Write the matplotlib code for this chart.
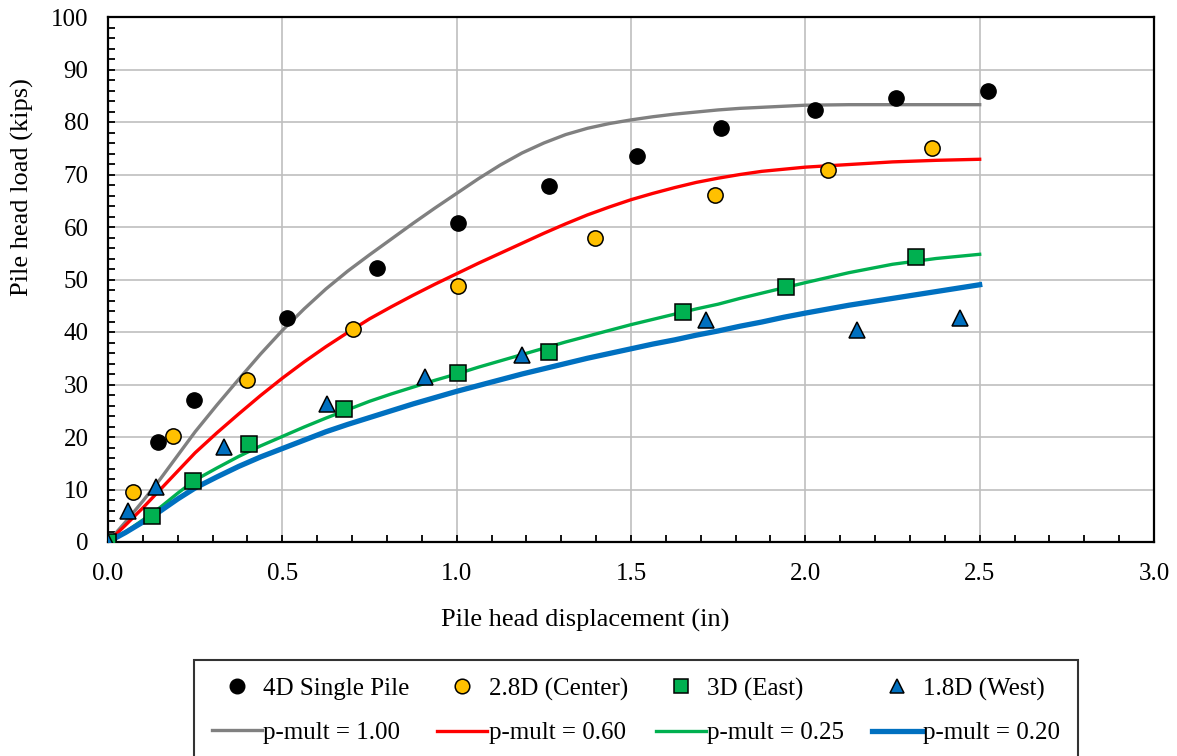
import matplotlib
matplotlib.use("Agg")
import matplotlib.pyplot as plt
from matplotlib.ticker import MultipleLocator, FormatStrFormatter

plt.rcParams['font.family'] = ['Liberation Serif', 'DejaVu Serif']

# Measured data
single_x = [0.0, 0.143, 0.247, 0.513, 0.772, 1.004, 1.266, 1.517, 1.758, 2.027, 2.261, 2.524]
single_y = [0.0, 19.0, 27.0, 42.6, 52.2, 60.8, 67.8, 73.6, 78.9, 82.3, 84.5, 85.9]

center_x = [0.0, 0.073, 0.185, 0.399, 0.702, 1.004, 1.397, 1.741, 2.065, 2.364]
center_y = [0.0, 9.6, 20.2, 30.8, 40.6, 48.8, 58.0, 66.1, 70.8, 75.0]

east_x = [0.0, 0.126, 0.243, 0.405, 0.677, 1.003, 1.266, 1.650, 1.945, 2.318]
east_y = [0.0, 4.9, 11.7, 18.6, 25.3, 32.2, 36.2, 43.9, 48.5, 54.2]

west_x = [0.0, 0.057, 0.139, 0.332, 0.628, 0.908, 1.187, 1.715, 2.147, 2.445]
west_y = [0.0, 5.9, 10.5, 18.1, 26.2, 31.4, 35.7, 42.2, 40.4, 42.6]

# Model curves (p-multipliers)
curve_x = [0.0, 0.05, 0.1, 0.15, 0.2, 0.25, 0.3125, 0.375, 0.4375, 0.5, 0.5625, 0.625,
           0.6875, 0.75, 0.8125, 0.875, 0.9375, 1.0, 1.0625, 1.125, 1.1875, 1.25,
           1.3125, 1.375, 1.4375, 1.5, 1.5625, 1.625, 1.6875, 1.75, 1.8125, 1.875,
           1.9375, 2.0, 2.125, 2.25, 2.375, 2.5]
pm100_y = [0.0, 3.8, 7.8, 12.0, 16.5, 21.0, 26.1, 31.0, 35.8, 40.3, 44.4, 48.2,
           51.6, 54.7, 57.7, 60.7, 63.6, 66.4, 69.2, 71.8, 74.1, 76.0,
           77.6, 78.8, 79.7, 80.4, 81.0, 81.5, 81.9, 82.3, 82.6, 82.8,
           83.0, 83.2, 83.3, 83.3, 83.3, 83.3]
pm060_y = [0.0, 3.2, 6.5, 10.0, 13.5, 17.0, 20.8, 24.4, 27.9, 31.2, 34.3, 37.2,
           39.9, 42.5, 44.8, 47.0, 49.1, 51.1, 53.1, 55.0, 56.9, 58.8,
           60.6, 62.3, 63.8, 65.2, 66.4, 67.5, 68.5, 69.3, 70.0, 70.6,
           71.0, 71.4, 71.9, 72.4, 72.7, 72.9]
pm025_y = [0.0, 1.9, 4.2, 6.6, 9.3, 11.8, 14.1, 16.3, 18.3, 20.1, 21.9, 23.6,
           25.2, 26.8, 28.2, 29.5, 30.8, 32.0, 33.3, 34.5, 35.7, 36.9,
           38.1, 39.2, 40.3, 41.4, 42.4, 43.4, 44.4, 45.3, 46.4, 47.4,
           48.4, 49.4, 51.3, 52.9, 54.0, 54.8]
pm020_y = [0.0, 1.8, 3.8, 5.9, 8.2, 10.3, 12.4, 14.4, 16.2, 17.8, 19.4, 21.0,
           22.4, 23.7, 25.0, 26.3, 27.5, 28.7, 29.8, 30.9, 32.0, 33.0,
           34.0, 35.0, 35.9, 36.8, 37.7, 38.5, 39.4, 40.2, 41.1, 41.9,
           42.8, 43.6, 45.1, 46.4, 47.7, 49.0]

x_ticks = [0.0, 0.5, 1.0, 1.5, 2.0, 2.5, 3.0]
y_ticks = [0, 10, 20, 30, 40, 50, 60, 70, 80, 90, 100]

fig = plt.figure(figsize=(11.77, 7.56), dpi=100)
ax = fig.add_axes([108/1177, 1-542/756, (1154-108)/1177, (542-17)/756])

l1, = ax.plot(curve_x, pm100_y, color='#808080', lw=2.4, zorder=2)
l2, = ax.plot(curve_x, pm060_y, color='#FF0000', lw=2.4, zorder=2)
l3, = ax.plot(curve_x, pm025_y, color='#00B050', lw=2.4, zorder=2)
l4, = ax.plot(curve_x, pm020_y, color='#0070C0', lw=3.8, zorder=2)

m1, = ax.plot(single_x, single_y, 'o', ms=11, mfc='black', mec='black', mew=1.0, ls='none', zorder=3)
m2, = ax.plot(center_x, center_y, 'o', ms=11, mfc='#FFC000', mec='black', mew=1.1, ls='none', zorder=3)
m3, = ax.plot(east_x, east_y, 's', ms=11, mfc='#00B050', mec='black', mew=1.1, ls='none', zorder=3)
m4, = ax.plot(west_x, west_y, '^', ms=11.5, mfc='#0070C0', mec='black', mew=1.1, ls='none', zorder=3)

ax.set_xlim(0, 3.0)
ax.set_ylim(0, 100)
ax.set_xticks(x_ticks)
ax.set_yticks(y_ticks)
ax.xaxis.set_major_formatter(FormatStrFormatter('%.1f'))
ax.xaxis.set_minor_locator(MultipleLocator(0.1))
ax.yaxis.set_minor_locator(MultipleLocator(2))
ax.grid(True, which='major', color='#BFBFBF', lw=1.2, zorder=0)
ax.set_axisbelow(True)
ax.tick_params(which='both', direction='in', width=1.3, labelsize=18, colors='black')
ax.tick_params(which='major', length=5)
ax.tick_params(which='minor', length=5)
ax.tick_params(axis='x', which='both', pad=15)
ax.tick_params(axis='y', which='both', pad=14)
ax.tick_params(axis='y', which='both', right=False)
for s in ax.spines.values():
    s.set_linewidth(1.6)
    s.set_color('black')

ax.set_xlabel('Pile head displacement (in)', fontsize=19)
ax.set_ylabel('Pile head load (kips)', fontsize=19)
ax.xaxis.set_label_coords((585-108)/1046, (542-620)/525)
ax.yaxis.set_label_coords((22-108)/1046, (542-187)/525)
ax.xaxis.label.set_va('center')
ax.yaxis.label.set_va('center')

handles = [m1, l1, m2, l2, m3, l3, m4, l4]
labels = ['4D Single Pile', 'p-mult = 1.00', '2.8D (Center)', 'p-mult = 0.60',
          '3D (East)', 'p-mult = 0.25', '1.8D (West)', 'p-mult = 0.20']
leg = fig.legend(handles, labels, ncol=4, loc='upper center',
                 bbox_to_anchor=(636/1177, 1-660/756), fontsize=18,
                 frameon=True, fancybox=False, edgecolor='black',
                 handlelength=2.0, handletextpad=0.05, columnspacing=1.12,
                 labelspacing=0.85, borderpad=0.7, borderaxespad=0.0, numpoints=1)
leg.get_frame().set_linewidth(1.5)
for h in leg.legend_handles[0::2]:
    h.set_markersize(10.5)

fig.savefig('out.png', dpi=100)
